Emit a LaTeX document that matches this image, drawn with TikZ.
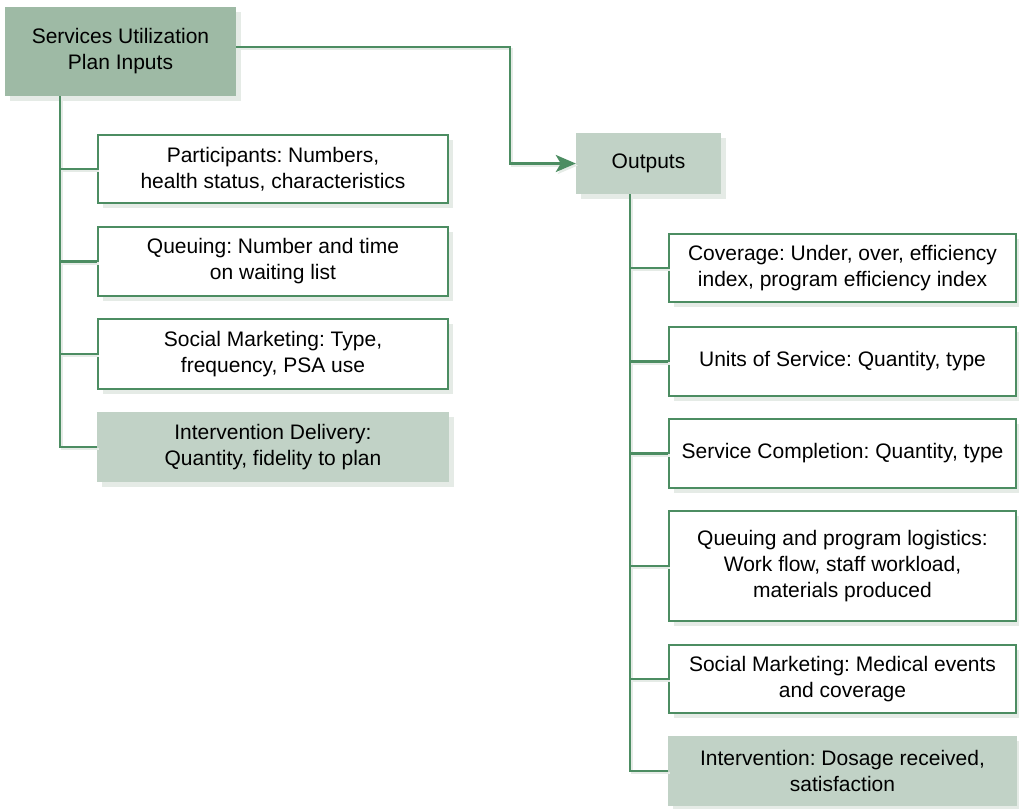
\documentclass[tikz,border=0pt]{standalone}
\usepackage{fontspec}
\setmainfont{Liberation Sans}
\usetikzlibrary{arrows.meta,shadows}
\frenchspacing

\definecolor{linec}{RGB}{76,141,98}
\definecolor{darkfill}{RGB}{158,186,165}
\definecolor{lightfill}{RGB}{193,210,198}
\definecolor{shadowc}{RGB}{229,235,230}

\tikzset{
  boxshadow/.style={drop shadow={shadow xshift=5pt, shadow yshift=-5pt, fill=shadowc, opacity=1}},
  basebox/.style={rectangle, inner sep=0pt, align=center, boxshadow,
    font=\fontsize{21}{26}\selectfont, text=black},
  whitebox/.style={basebox, draw=linec, line width=2.7pt, fill=white},
  lightbox/.style={basebox, fill=lightfill},
  headbox/.style={basebox, fill=darkfill},
  conn/.style={draw=linec, line width=2.7pt,
    preaction={draw=shadowc, line width=2.7pt, transform canvas={shift={(2pt,-2pt)}}}},
  arr/.style={conn, -{Stealth[length=20pt, width=17pt, inset=5pt]}},
}

\begin{document}
\begin{tikzpicture}[x=1pt, y=-1pt]
\useasboundingbox (0,0) rectangle (1019,808);

% column positions of the two trunks and the bend of the top connector
\coordinate (lx) at (60,0);
\coordinate (rx) at (630,0);
\coordinate (bend) at (510,0);

% header and outputs
\node[headbox, minimum width=231, minimum height=89] (inputs) at (120.5,51.5)
  {Services Utilization\\Plan Inputs};
\node[lightbox, minimum width=145, minimum height=61] (outputs) at (648.5,163.5)
  {Outputs};

% input items
\node[whitebox, minimum width=350, minimum height=68] (in1) at (273,169)
  {Participants: Numbers,\\health status, characteristics};
\node[whitebox, minimum width=350, minimum height=69] (in2) at (273,261.5)
  {Queuing: Number and time\\on waiting list};
\node[whitebox, minimum width=350, minimum height=70] (in3) at (273,354)
  {Social Marketing: Type,\\frequency, PSA use};
\node[lightbox, minimum width=352, minimum height=70] (in4) at (273,447)
  {Intervention Delivery:\\Quantity, fidelity to plan};

% output items
\node[whitebox, minimum width=347, minimum height=68] (out1) at (842.5,268)
  {Coverage: Under, over, efficiency\\index, program efficiency index};
\node[whitebox, minimum width=347, minimum height=69] (out2) at (842.5,361.5)
  {Units of Service: Quantity, type};
\node[whitebox, minimum width=347, minimum height=69] (out3) at (842.5,453.5)
  {Service Completion: Quantity, type};
\node[whitebox, minimum width=347, minimum height=110] (out4) at (842.5,566)
  {Queuing and program logistics:\\Work flow, staff workload,\\materials produced};
\node[whitebox, minimum width=347, minimum height=68] (out5) at (842.5,679)
  {Social Marketing: Medical events\\and coverage};
\node[lightbox, minimum width=349, minimum height=70] (out6) at (842.5,771)
  {Intervention: Dosage received,\\satisfaction};

% connectors
\path[arr] ([yshift=4.5pt]inputs.east) -| (bend |- outputs.west) -- (outputs.west);

\path[conn] (inputs.south -| lx) |- (in4.west);
\foreach \n in {in1,in2,in3}
  \path[conn] (\n.west -| lx) -- (\n.west);

\path[conn] (outputs.south -| rx) |- (out6.west);
\foreach \n in {out1,out2,out3,out4,out5}
  \path[conn] (\n.west -| rx) -- (\n.west);

\end{tikzpicture}
\end{document}
